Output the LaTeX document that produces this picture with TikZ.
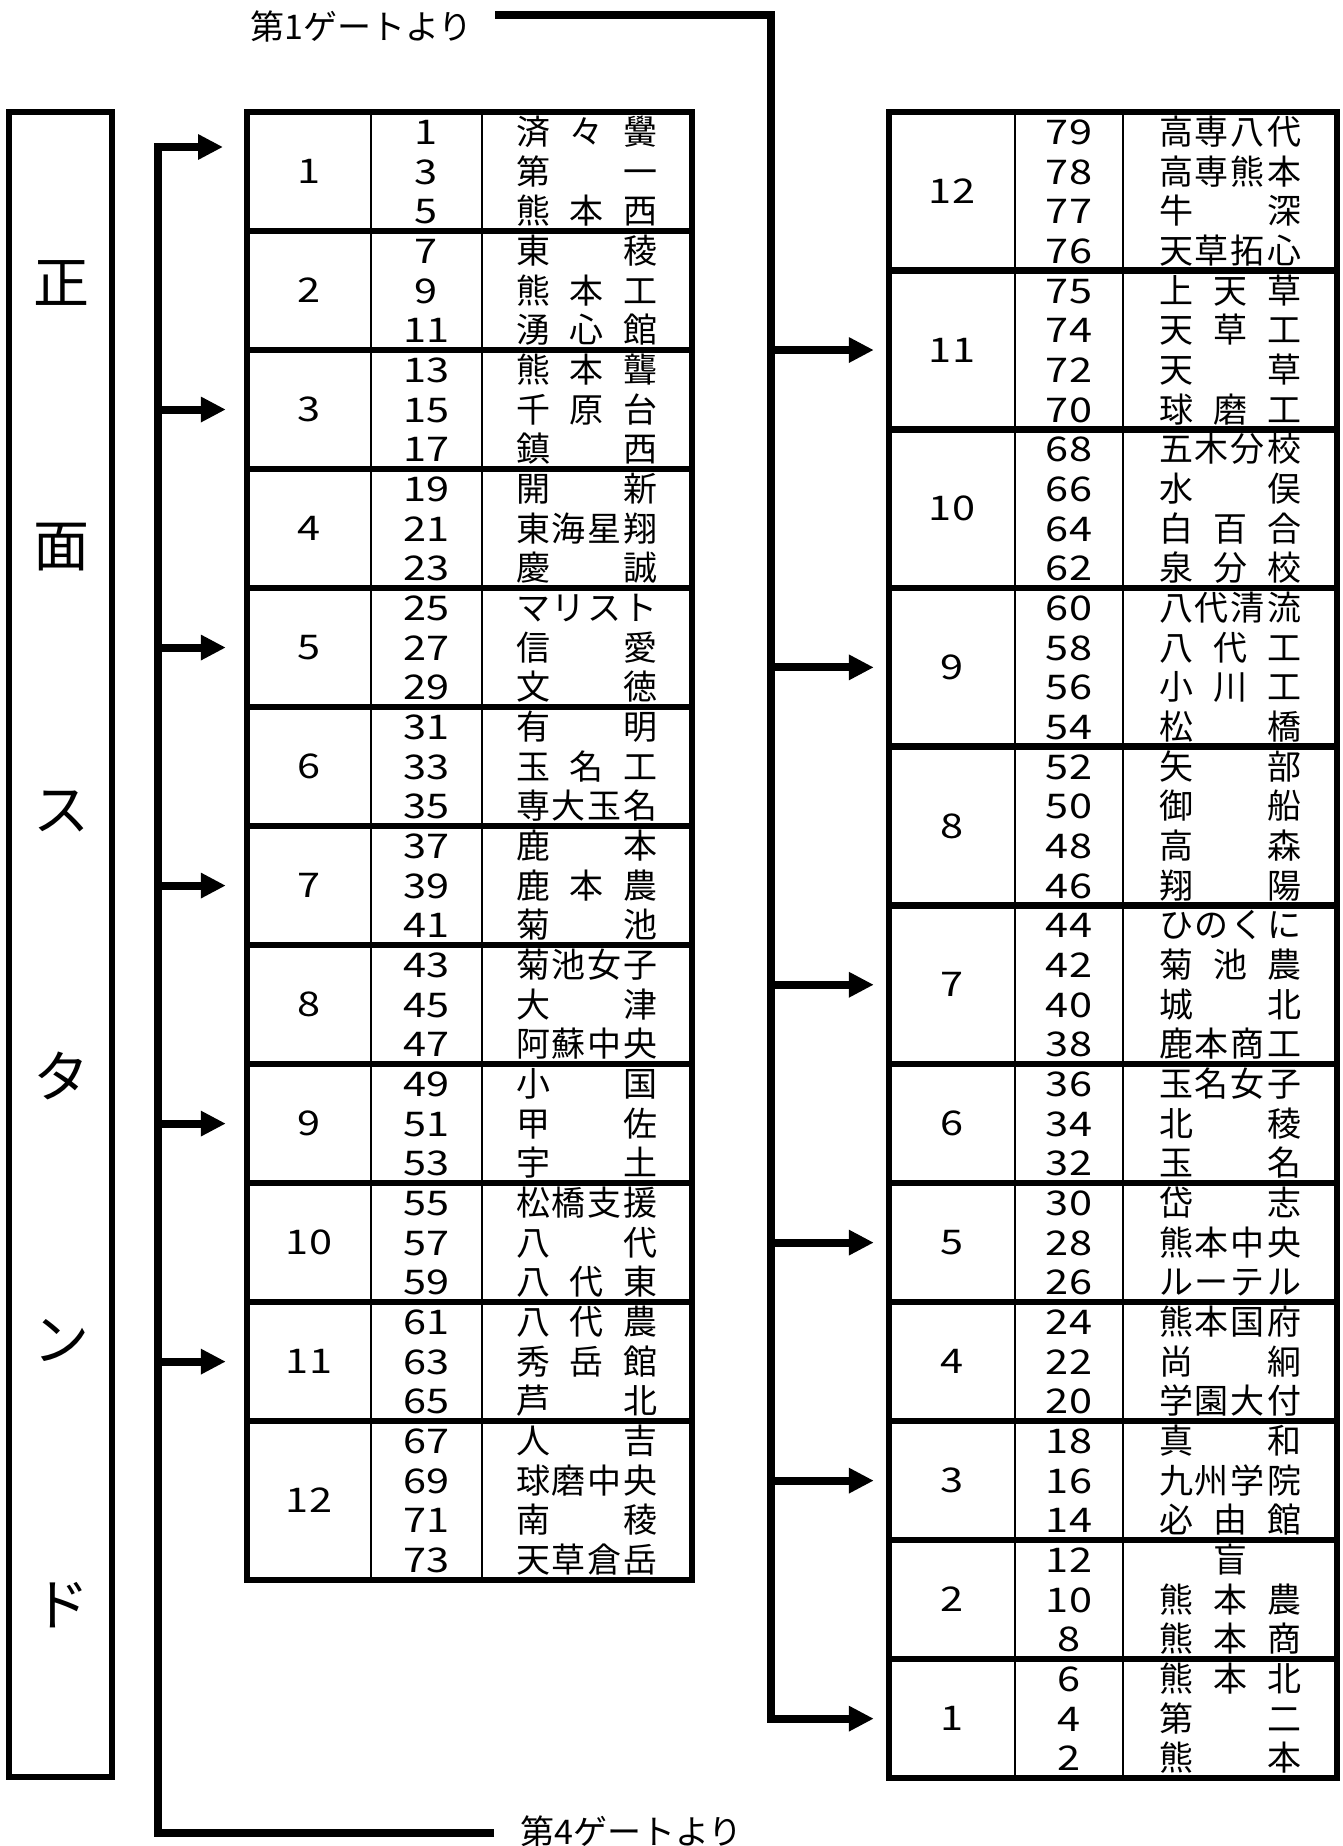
\documentclass[tikz,border=0pt]{standalone}
\usepackage{graphicx}
\usepackage{fontspec}
\setmainfont{Noto Sans CJK JP}
\usetikzlibrary{arrows.meta}
\def\spr#1{\sprA#1\endspr}
\def\sprA#1#2\endspr{#1\ifx\relax#2\relax\else\hfill\sprA#2\endspr\fi}
\newcommand\nm[1]{\makebox[142pt]{\expandafter\spr\expandafter{#1}}}
\newcommand\widedig[1]{\scalebox{1.22}[1]{#1}}
\def\rh{39.67}
\begin{document}
\begin{tikzpicture}[x=1pt,y=-1pt,
  conn/.style={line width=8pt},
  arr/.style={conn,-{Triangle[length=25pt,width=24pt]}},
  frame/.style={line width=6.5pt},
  rule/.style={line width=2.5pt},
  txt/.style={inner sep=0pt,font=\fontsize{34}{40}\selectfont,anchor=base},
  blk/.style={inner sep=0pt,font=\fontsize{34}{40}\selectfont,minimum width=124pt},
  gate/.style={inner sep=0pt,font=\fontsize{34}{40}\selectfont,anchor=west},
  big/.style={inner sep=0pt,font=\fontsize{56}{60}\selectfont}]
\fill[white] (0,0) rectangle (1343,1846);
\useasboundingbox (0,0) rectangle (1343,1846);

% ---------- stand box ----------
\node[draw,frame,minimum width=103pt,minimum height=1665pt,inner sep=0pt] (stand) at (60.5,944.5) {};
\foreach \i/\c in {0/正,1/面,2/ス,3/タ,4/ン,5/ド}
  \node[big] (S\i) at (61,{283+264.4*\i}) {\c};

% ---------- left table ----------
\draw[frame] (247,112) rectangle (692,{112+37*\rh});
\draw[rule] (371,112) -- (371,{112+37*\rh});
\draw[rule] (482,112) -- (482,{112+37*\rh});
\foreach \s in {3,6,...,33}
  \draw[frame] (247,{112+\rh*\s}) -- (692,{112+\rh*\s});
\foreach \b/\s/\k in {1/0/3,2/3/3,3/6/3,4/9/3,5/12/3,6/15/3,7/18/3,8/21/3,9/24/3,10/27/3,11/30/3,12/33/4}{
  \pgfmathsetmacro\yc{112+\rh*(\s+\k/2)}
  \pgfmathsetmacro\hh{\rh*\k}
  \node[blk,minimum height=\hh pt] (LB\b) at (309,\yc) {\widedig{\b}};
}
\foreach \r/\n/\m in {0/1/済々黌,1/3/第一,2/5/熊本西,3/7/東稜,4/9/熊本工,5/11/湧心館,
  6/13/熊本聾,7/15/千原台,8/17/鎮西,9/19/開新,10/21/東海星翔,11/23/慶誠,
  12/25/マリスト,13/27/信愛,14/29/文徳,15/31/有明,16/33/玉名工,17/35/専大玉名,
  18/37/鹿本,19/39/鹿本農,20/41/菊池,21/43/菊池女子,22/45/大津,23/47/阿蘇中央,
  24/49/小国,25/51/甲佐,26/53/宇土,27/55/松橋支援,28/57/八代,29/59/八代東,
  30/61/八代農,31/63/秀岳館,32/65/芦北,33/67/人吉,34/69/球磨中央,35/71/南稜,36/73/天草倉岳}{
  \pgfmathsetmacro\yy{112+\rh*(\r+0.5)+12.5}
  \node[txt] (Lnum\r) at (426.5,\yy) {\widedig{\n}};
  \node[txt] (Lname\r) at (587,\yy) {\nm{\m}};
}

% ---------- right table ----------
\draw[frame] (889,112) rectangle (1337,{112+42*\rh});
\draw[rule] (1015,112) -- (1015,{112+42*\rh});
\draw[rule] (1123,112) -- (1123,{112+42*\rh});
\foreach \s in {4,8,12,16,20,24,27,30,33,36,39}
  \draw[frame] (889,{112+\rh*\s}) -- (1337,{112+\rh*\s});
\foreach \b/\s/\k in {12/0/4,11/4/4,10/8/4,9/12/4,8/16/4,7/20/4,6/24/3,5/27/3,4/30/3,3/33/3,2/36/3,1/39/3}{
  \pgfmathsetmacro\yc{112+\rh*(\s+\k/2)}
  \pgfmathsetmacro\hh{\rh*\k}
  \node[blk,minimum height=\hh pt] (RB\b) at (952,\yc) {\widedig{\b}};
}
\foreach \r/\n/\m in {0/79/高専八代,1/78/高専熊本,2/77/牛深,3/76/天草拓心,
  4/75/上天草,5/74/天草工,6/72/天草,7/70/球磨工,
  8/68/五木分校,9/66/水俣,10/64/白百合,11/62/泉分校,
  12/60/八代清流,13/58/八代工,14/56/小川工,15/54/松橋,
  16/52/矢部,17/50/御船,18/48/高森,19/46/翔陽,
  20/44/ひのくに,21/42/菊池農,22/40/城北,23/38/鹿本商工,
  24/36/玉名女子,25/34/北稜,26/32/玉名,
  27/30/岱志,28/28/熊本中央,29/26/ルーテル,
  30/24/熊本国府,31/22/尚絅,32/20/学園大付,
  33/18/真和,34/16/九州学院,35/14/必由館,
  36/12/盲,37/10/熊本農,38/8/熊本商,
  39/6/熊本北,40/4/第二,41/2/熊本}{
  \pgfmathsetmacro\yy{112+\rh*(\r+0.5)+12.5}
  \node[txt] (Rnum\r) at (1069,\yy) {\widedig{\n}};
  \node[txt] (Rname\r) at (1230,\yy) {\nm{\m}};
}

% ---------- gate labels ----------
\node[gate] (g1) at (250,26) {第1ゲートより};
\node[gate] (g4) at (520,1831) {第4ゲートより};

% ---------- connectors ----------
\coordinate (g1s) at (495,15);
\coordinate (rsp) at (771,15);
\draw[arr] (g1s) -| (RB1.west -| rsp) -- ([xshift=-16pt]RB1.west);
\foreach \b in {3,5,7,9,11}
  \draw[arr] (RB\b.west -| rsp) -- ([xshift=-16pt]RB\b.west);

\coordinate (g4s) at (494,1833);
\coordinate (lsp) at (158,147);
\coordinate (lt1) at (223,147);
\draw[arr] (g4s) -| (lsp) -- (lt1);
\foreach \b in {3,5,7,9,11}
  \draw[arr] (LB\b.west -| lsp) -- ([xshift=-21pt]LB\b.west);
\end{tikzpicture}
\end{document}
